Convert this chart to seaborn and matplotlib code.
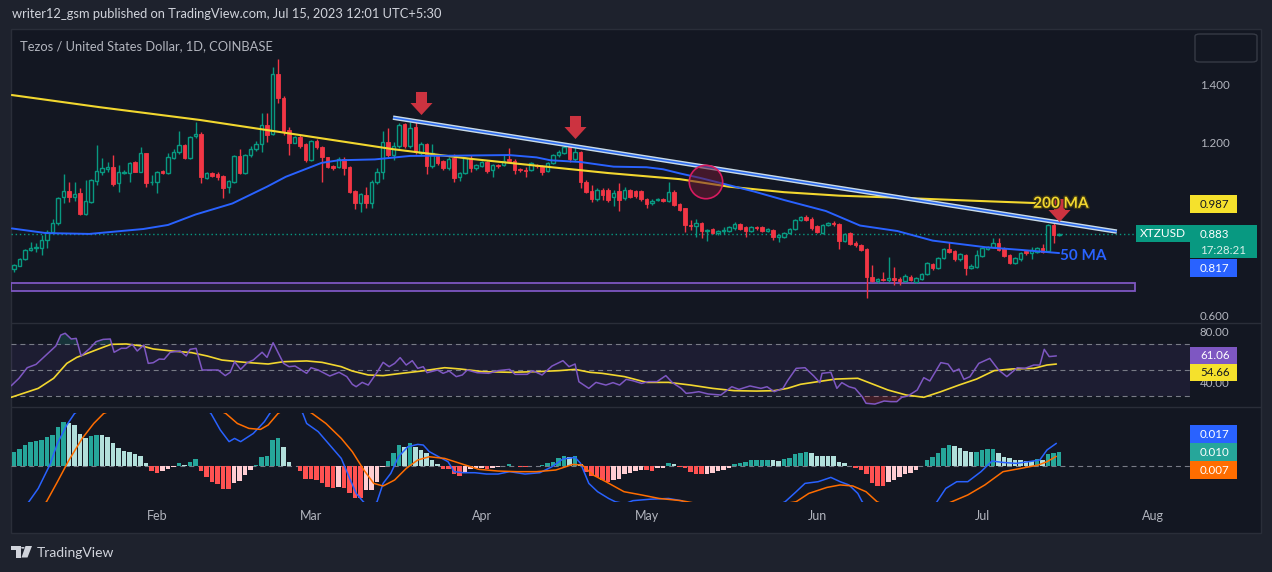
import numpy as np
import pandas as pd
import matplotlib
matplotlib.use('Agg')
import matplotlib.pyplot as plt
import matplotlib.patches as mpatches
import matplotlib.patheffects as pe
from matplotlib.path import Path
from matplotlib.ticker import FormatStrFormatter
import seaborn as sns

# ---------------- data ----------------
first_day = '2023-01-05'

opens = [0.771, 0.762, 0.774, 0.795, 0.826, 0.833, 0.833, 0.862, 0.891, 0.920,
         1.011, 1.031, 1.012, 1.023, 0.952, 0.994, 1.066, 1.098, 1.108, 1.113,
         1.057, 1.094, 1.092, 1.130, 1.098, 1.161, 1.061, 1.061, 1.100, 1.094,
         1.146, 1.167, 1.190, 1.146, 1.220, 1.228, 1.077, 1.092, 1.089, 1.084,
         1.044, 1.063, 1.152, 1.092, 1.155, 1.175, 1.192, 1.259, 1.228, 1.434,
         1.351, 1.241, 1.198, 1.218, 1.192, 1.138, 1.203, 1.182, 1.147, 1.117,
         1.115, 1.141, 1.114, 1.031, 0.991, 1.017, 0.991, 1.061, 1.095, 1.199,
         1.155, 1.187, 1.261, 1.187, 1.253, 1.161, 1.192, 1.118, 1.155, 1.134,
         1.111, 1.144, 1.080, 1.092, 1.144, 1.109, 1.118, 1.132, 1.103, 1.121,
         1.121, 1.140, 1.136, 1.106, 1.103, 1.103, 1.121, 1.118, 1.100, 1.129,
         1.155, 1.161, 1.182, 1.140, 1.164, 1.063, 1.032, 1.003, 1.034, 1.034,
         1.009, 1.032, 1.006, 1.034, 1.031, 1.032, 1.003, 0.988, 1.000, 1.004,
         0.997, 1.029, 0.986, 0.971, 0.914, 0.910, 0.919, 0.893, 0.899, 0.885,
         0.893, 0.894, 0.902, 0.916, 0.906, 0.894, 0.908, 0.906, 0.893, 0.895,
         0.871, 0.874, 0.887, 0.899, 0.931, 0.940, 0.936, 0.910, 0.887, 0.914,
         0.922, 0.917, 0.860, 0.885, 0.851, 0.845, 0.830, 0.736, 0.722, 0.726,
         0.724, 0.730, 0.729, 0.722, 0.736, 0.717, 0.727, 0.745, 0.779, 0.765,
         0.799, 0.830, 0.825, 0.795, 0.810, 0.767, 0.770, 0.807, 0.830, 0.839,
         0.853, 0.833, 0.810, 0.782, 0.795, 0.824, 0.818, 0.822, 0.833, 0.824,
         0.914, 0.880]

highs = [0.774, 0.779, 0.801, 0.832, 0.856, 0.851, 0.879, 0.897, 0.933, 1.012,
         1.090, 1.063, 1.063, 1.040, 1.069, 1.072, 1.190, 1.144, 1.132, 1.155,
         1.121, 1.102, 1.132, 1.134, 1.184, 1.163, 1.086, 1.100, 1.104, 1.161,
         1.175, 1.238, 1.194, 1.222, 1.270, 1.233, 1.098, 1.096, 1.095, 1.086,
         1.069, 1.155, 1.175, 1.160, 1.185, 1.205, 1.299, 1.299, 1.457, 1.486,
         1.360, 1.253, 1.222, 1.224, 1.195, 1.207, 1.209, 1.185, 1.149, 1.121,
         1.149, 1.149, 1.117, 1.035, 1.025, 1.046, 1.069, 1.109, 1.238, 1.247,
         1.201, 1.265, 1.264, 1.270, 1.272, 1.201, 1.195, 1.192, 1.160, 1.137,
         1.149, 1.157, 1.098, 1.148, 1.155, 1.125, 1.135, 1.135, 1.125, 1.124,
         1.155, 1.178, 1.140, 1.109, 1.115, 1.130, 1.124, 1.120, 1.130, 1.160,
         1.172, 1.195, 1.190, 1.190, 1.168, 1.070, 1.052, 1.040, 1.040, 1.040,
         1.034, 1.058, 1.046, 1.038, 1.036, 1.036, 1.006, 1.002, 1.008, 1.008,
         1.061, 1.035, 0.990, 0.974, 0.931, 0.933, 0.923, 0.899, 0.903, 0.897,
         0.908, 0.912, 0.925, 0.920, 0.910, 0.911, 0.912, 0.910, 0.905, 0.899,
         0.882, 0.891, 0.905, 0.935, 0.946, 0.950, 0.940, 0.914, 0.918, 0.925,
         0.929, 0.921, 0.887, 0.889, 0.857, 0.849, 0.834, 0.776, 0.730, 0.752,
         0.805, 0.770, 0.733, 0.744, 0.740, 0.734, 0.749, 0.786, 0.783, 0.803,
         0.834, 0.856, 0.829, 0.817, 0.814, 0.778, 0.827, 0.837, 0.843, 0.868,
         0.868, 0.837, 0.814, 0.805, 0.822, 0.828, 0.839, 0.837, 0.848, 0.918,
         0.925, 0.887]

lows = [0.766, 0.753, 0.772, 0.793, 0.824, 0.822, 0.810, 0.833, 0.888, 0.915,
        0.989, 0.994, 0.997, 0.948, 0.948, 0.990, 1.052, 1.086, 1.098, 1.049,
        1.029, 1.090, 1.063, 1.095, 1.095, 1.046, 1.052, 1.023, 1.090, 1.088,
        1.140, 1.160, 1.140, 1.140, 1.215, 1.057, 1.072, 1.080, 1.069, 1.008,
        1.023, 1.060, 1.090, 1.088, 1.150, 1.170, 1.167, 1.199, 1.225, 1.333,
        1.224, 1.155, 1.195, 1.180, 1.130, 1.135, 1.175, 1.063, 1.110, 1.105,
        1.110, 1.086, 1.023, 0.969, 0.960, 0.971, 0.971, 1.055, 1.072, 1.150,
        1.138, 1.180, 1.180, 1.180, 1.160, 1.155, 1.089, 1.110, 1.120, 1.103,
        1.105, 1.063, 1.066, 1.088, 1.098, 1.105, 1.115, 1.092, 1.078, 1.112,
        1.118, 1.130, 1.089, 1.098, 1.080, 1.099, 1.112, 1.086, 1.095, 1.125,
        1.150, 1.158, 1.132, 1.136, 1.040, 1.025, 0.994, 0.998, 0.999, 0.994,
        0.980, 0.963, 1.000, 1.006, 1.008, 0.996, 0.971, 0.984, 0.996, 0.993,
        0.994, 0.978, 0.962, 0.891, 0.897, 0.874, 0.868, 0.860, 0.883, 0.881,
        0.883, 0.890, 0.898, 0.896, 0.874, 0.890, 0.898, 0.890, 0.889, 0.862,
        0.856, 0.870, 0.883, 0.895, 0.927, 0.927, 0.898, 0.887, 0.883, 0.910,
        0.912, 0.830, 0.856, 0.844, 0.837, 0.824, 0.661, 0.718, 0.713, 0.720,
        0.718, 0.707, 0.707, 0.718, 0.720, 0.713, 0.723, 0.741, 0.760, 0.761,
        0.795, 0.818, 0.791, 0.791, 0.741, 0.763, 0.766, 0.803, 0.826, 0.835,
        0.824, 0.803, 0.778, 0.778, 0.791, 0.812, 0.796, 0.818, 0.818, 0.820,
        0.853, 0.876]

closes = [0.769, 0.776, 0.797, 0.828, 0.836, 0.839, 0.861, 0.891, 0.920, 1.008,
          1.031, 1.011, 1.020, 0.952, 0.998, 1.068, 1.100, 1.109, 1.113, 1.055,
          1.095, 1.097, 1.126, 1.098, 1.161, 1.060, 1.063, 1.095, 1.094, 1.147,
          1.164, 1.190, 1.146, 1.218, 1.226, 1.080, 1.092, 1.084, 1.080, 1.043,
          1.066, 1.152, 1.092, 1.155, 1.176, 1.192, 1.259, 1.224, 1.434, 1.351,
          1.236, 1.198, 1.218, 1.187, 1.138, 1.203, 1.182, 1.147, 1.115, 1.111,
          1.141, 1.109, 1.029, 0.991, 1.021, 0.991, 1.063, 1.098, 1.199, 1.155,
          1.187, 1.259, 1.187, 1.247, 1.167, 1.192, 1.118, 1.163, 1.126, 1.111,
          1.141, 1.077, 1.092, 1.144, 1.111, 1.121, 1.130, 1.101, 1.121, 1.116,
          1.134, 1.136, 1.103, 1.102, 1.101, 1.126, 1.116, 1.098, 1.126, 1.155,
          1.164, 1.182, 1.140, 1.164, 1.063, 1.029, 1.002, 1.034, 1.017, 0.999,
          1.025, 0.999, 1.034, 1.012, 1.014, 1.002, 0.986, 0.998, 1.003, 0.997,
          1.029, 0.983, 0.966, 0.914, 0.910, 0.919, 0.894, 0.896, 0.887, 0.893,
          0.896, 0.908, 0.917, 0.900, 0.893, 0.907, 0.902, 0.894, 0.901, 0.874,
          0.878, 0.887, 0.901, 0.931, 0.940, 0.931, 0.902, 0.891, 0.914, 0.920,
          0.916, 0.860, 0.883, 0.848, 0.845, 0.828, 0.733, 0.722, 0.726, 0.724,
          0.730, 0.724, 0.722, 0.738, 0.724, 0.730, 0.745, 0.782, 0.764, 0.799,
          0.830, 0.822, 0.795, 0.813, 0.764, 0.774, 0.810, 0.833, 0.839, 0.853,
          0.828, 0.807, 0.782, 0.801, 0.818, 0.816, 0.827, 0.833, 0.822, 0.914,
          0.879, 0.883]

# moving averages (day of year, value)
ma200_day = [4.6, 20.6, 38.8, 57, 74, 88, 100.7, 113, 126, 135, 145, 155, 165.5, 180, 190, 195]
ma200_val = [1.362, 1.320, 1.276, 1.224, 1.175, 1.142, 1.117, 1.093, 1.072, 1.046, 1.027,
             1.015, 1.008, 0.997, 0.990, 0.987]
ma50_day = [4.6, 10.8, 18.7, 28.5, 33, 38, 44.7, 51, 54.4, 60.9, 64, 70.6, 77, 85.6, 95, 100,
            102.5, 108, 114, 120, 123, 126, 130, 139.6, 145, 152.6, 158.8, 165.6, 172, 181.7, 188, 195]
ma50_val = [0.902, 0.886, 0.883, 0.900, 0.914, 0.950, 0.988, 1.046, 1.080, 1.128, 1.137, 1.140,
            1.152, 1.153, 1.155, 1.147, 1.137, 1.131, 1.115, 1.113, 1.106, 1.092, 1.075, 1.029,
            1.000, 0.962, 0.912, 0.893, 0.860, 0.837, 0.828, 0.817]

# trend line and marks
trend_day = [73.9, 205.5]
trend_price = [1.284, 0.891]
arrow_day = [79, 107, 195]
arrow_price = [1.336, 1.253, 0.967]
circle_day, circle_price = 130.8, 1.062
zone_day = [4.45, 208.8]
zone_price = [0.686, 0.714]

# RSI 14 and its MA
rsi_day = [4.5, 5.9, 7.4, 9.0, 11.5, 12.6, 13.5, 14.3, 15.4, 16.3,
           17.2, 18.8, 19.9, 21.2, 22.5, 23.2, 24.5, 25.4, 26.5, 27.4,
           28.6, 29.4, 30.3, 31.4, 32.3, 33.4, 35.2, 36.3, 37.0, 38.1,
           39.2, 42.1, 43.4, 44.3, 45.1, 46.2, 47.4, 48.5, 50.1, 51.0,
           52.1, 54.0, 55.0, 56.1, 58.2, 59.0, 60.3, 62.4, 64.1, 65.5,
           66.5, 67.2, 68.3, 69.4, 71.0, 72.1, 73.2, 74.2, 75.2, 76.3,
           77.4, 78.4, 79.4, 80.1, 82.0, 83.0, 84.1, 85.4, 86.5, 87.4,
           89.2, 91.3, 93.0, 95.1, 96.1, 98.3, 99.3, 101.0, 102.8, 104.8,
           105.9, 107.0, 107.7, 109.5, 110.8, 112.6, 113.9, 115.1, 116.3, 117.5,
           119.1, 120.3, 121.9, 123.5, 124.7, 126.3, 127.2, 128.3, 129.5, 131.2,
           133.5, 135.5, 136.8, 138.8, 140.8, 141.9, 143.2, 144.8, 145.6, 147.2,
           148.8, 150.4, 151.5, 151.9, 153.5, 154.6, 155.5, 156.8, 157.9, 159.2,
           159.9, 161.5, 163.2, 164.4, 165.5, 166.4, 167.5, 169.2, 170.4, 171.5,
           173.5, 174.8, 175.8, 176.8, 177.7, 178.8, 180.4, 182.4, 184.0, 185.5,
           187.4, 188.8, 190.4, 191.5, 192.3, 193.2, 194.5]
rsi_val = [37.7, 43.5, 51.8, 54.4, 64.4, 68.8, 77.4, 78.8, 74.3, 74.8,
           61.0, 67.0, 72.2, 74.0, 74.3, 63.9, 67.0, 67.0, 70.1, 64.9,
           69.6, 55.2, 55.7, 58.6, 58.4, 63.9, 64.9, 61.0, 66.2, 67.0,
           50.0, 50.0, 45.6, 48.2, 56.5, 50.5, 55.8, 57.8, 63.9, 59.9,
           71.4, 55.2, 52.6, 53.1, 47.4, 51.8, 50.0, 45.3, 48.2, 44.8,
           38.8, 36.9, 40.3, 38.2, 48.2, 56.0, 52.6, 55.2, 59.7, 53.9,
           57.3, 51.3, 52.6, 47.9, 50.0, 47.4, 49.2, 44.8, 46.1, 50.0,
           47.9, 47.4, 49.5, 50.5, 46.6, 46.6, 49.5, 46.1, 53.1, 57.3,
           52.6, 54.7, 40.8, 35.6, 40.3, 38.2, 40.1, 38.2, 42.7, 41.6,
           39.5, 40.9, 40.9, 45.6, 40.1, 35.6, 31.7, 32.2, 33.0, 31.2,
           30.4, 36.9, 34.8, 37.5, 35.6, 36.9, 33.0, 35.6, 41.4, 51.3,
           51.8, 45.3, 40.1, 47.4, 48.2, 35.6, 40.1, 36.9, 35.6, 29.1,
           23.9, 23.3, 25.7, 25.2, 25.2, 28.6, 29.6, 34.3, 44.0, 41.4,
           55.8, 54.7, 48.7, 50.8, 42.7, 44.8, 55.2, 59.1, 50.0, 44.8,
           51.8, 51.3, 53.9, 53.9, 66.2, 60.5, 61.06]
rsima_day = [4.5, 9.4, 12.2, 14.6, 16.4, 19.9, 22.6, 25.4, 28.3, 30.3,
             33.7, 37.3, 40.1, 42.8, 47.0, 51.2, 54.0, 58.2, 61.0, 64.5,
             66.5, 69.4, 72.1, 75.5, 79.1, 83.3, 86.1, 90.3, 95.1, 100.0,
             104.1, 107.0, 109.7, 111.9, 116.0, 120.0, 124.0, 128.0, 132.0, 135.9,
             140.0, 143.2, 145.6, 148.0, 151.2, 154.4, 158.4, 160.8, 163.9, 167.2,
             170.4, 173.5, 176.8, 180.0, 183.2, 186.4, 190.4, 192.8, 194.5]
rsima_val = [28.6, 35.6, 43.5, 55.2, 59.9, 65.7, 70.1, 70.4, 68.8, 66.5,
             64.9, 63.6, 61.0, 57.8, 56.0, 54.7, 56.5, 57.1, 56.0, 52.6,
             49.2, 46.1, 45.6, 47.4, 49.2, 51.8, 50.8, 48.7, 48.2, 48.7,
             49.5, 50.5, 48.2, 47.4, 44.8, 40.3, 40.3, 38.2, 35.6, 33.8,
             33.5, 33.8, 35.6, 38.8, 40.9, 42.9, 43.5, 39.5, 34.3, 30.4,
             28.6, 33.0, 38.2, 42.9, 49.5, 50.8, 51.3, 53.9, 54.66]

# MACD (values in thousandths)
hist_milli = [8.5,
              10.2, 12.5, 15.9, 18.5, 19.0, 19.8, 21.8, 23.6, 30.0, 33.3,
              32.5, 31.3, 24.4, 21.5, 23.1, 23.6, 23.4, 21.8, 17.2, 13.3,
              11.3, 10.8, 9.0, 7.5, 1.8, -4.1, -5.4, -3.8, -2.5, -0.8,
              1.8, 0.5, 2.5, 5.2, -3.8, -9.0, -12.3, -14.1, -17.9, -18.0,
              -13.6, -11.5, -7.2, -3.3, 0.2, 6.9, 7.5, 19.8, 21.5, 14.1,
              2.5, -0.2, -3.8, -10.2, -10.3, -11.0, -13.6, -16.7, -17.5, -16.7,
              -16.8, -20.8, -24.6, -24.7, -18.7, -18.5, -12.3, -0.8, 3.6, 9.5,
              15.9, 14.6, 17.2, 14.6, 12.1, 9.5, 4.4, 1.0, -2.5, -2.6,
              -6.4, -7.9, -4.6, -2.8, -2.1, -1.5, -2.5, -2.1, -1.3, -0.2,
              1.3, 0.1, -0.8, -0.9, -0.3, 0.0, 0.5, 1.8, 3.1, 5.6,
              7.5, 6.9, 7.5, 1.0,
              -4.6, -7.9, -9.0, -11.0, -12.3, -11.0, -10.5, -6.4, -5.4, -4.1,
              -3.3, -3.4, -4.1, -2.1, -1.5, 1.8, 1.0, -0.8, -2.1, -4.6,
              -6.4, -6.5, -6.4, -5.4, -3.8, -3.3, -2.1, 1.3, 2.3, 3.1,
              4.4, 4.5, 4.6, 4.7, 4.5, 3.8, 4.8, 5.6, 9.0, 10.0,
              10.8, 9.5, 7.5, 7.4, 7.3, 7.2, 3.1, 1.8, 0.0, -2.1,
              -3.3, -6.4, -13.6, -15.4, -15.5, -12.3, -11.0, -9.0, -6.4, -5.4,
              -3.3, -0.2, 4.4, 6.4, 9.5, 13.3, 15.9, 15.2, 13.3, 11.3,
              10.2, 10.8, 12.1, 12.5, 12.6, 9.5, 6.4, 5.6, 4.4, 4.3,
              3.8, 3.7, 4.8, 4.4, 9.3, 9.8, 10.2]
macd_day = [4.45, 7.7, 9.4, 11.5, 12.9, 14.6, 16.0, 22.5, 28.0, 35.2,
            38.8, 40.8, 42.5, 44.1, 45.1, 46.2, 48.5, 50.5, 51.5, 54.5,
            57.5, 58.2, 60.3, 62.4, 64.5, 65.9, 67.2, 68.5, 69.7, 71.0,
            72.1, 73.5, 74.9, 76.6, 78.4, 79.4, 80.5, 82.2, 83.9, 85.0,
            86.7, 88.8, 90.9, 93.0, 95.1, 97.9, 100.6, 102.8, 104.8, 107.0,
            108.0, 109.5, 111.1, 113.1, 114.3, 116.1, 117.5, 120.6, 124.0, 126.3,
            129.7, 137.0, 141.5, 145.2, 147.2, 148.8, 151.2, 153.5, 155.2, 156.8,
            158.4, 159.2, 162.5, 166.1, 169.7, 172.8, 174.4, 176.4, 178.4, 180.8,
            182.8, 184.8, 187.2, 189.5, 191.5, 192.8, 194.5]
macd_milli = [-42.3, -27.7, -17.5, 0.5, 17.2, 31.3, 40.2, 57.7, 65.4, 60.0,
              47.7, 40.2, 27.5, 18.5, 21.0, 18.5, 24.8, 33.8, 40.2, 57.7,
              40.2, 32.5, 26.2, 15.9, 5.6, -8.5, -21.3, -27.7, -32.3, -27.7,
              -13.6, -5.9, 6.9, 14.6, 16.4, 15.9, 10.8, 6.9, 3.1, -4.6,
              -5.4, -5.4, -6.4, -6.4, -4.6, -6.4, -5.4, -0.8, 5.2, 6.4,
              1.8, -13.6, -20.0, -25.2, -27.7, -29.2, -26.9, -25.8, -25.2, -26.9,
              -34.6, -42.3, -34.6, -27.7, -20.0, -13.6, -12.3, -9.0, -12.3, -14.8,
              -21.3, -27.7, -42.3, -47.7, -42.3, -27.7, -17.5, -12.3, -12.3, -4.6,
              3.6, 2.5, 1.8, 3.1, 4.4, 12.1, 17.2]
signal_day = [4.45, 10.9, 12.9, 15.0, 17.4, 19.5, 21.3, 29.7, 37.0, 43.5,
              45.6, 47.7, 49.8, 51.2, 53.0, 56.1, 59.2, 61.7, 64.5, 66.5,
              68.6, 70.4, 72.1, 74.2, 76.3, 78.4, 80.5, 83.3, 86.1, 89.5,
              93.0, 96.5, 100.0, 103.5, 106.6, 108.3, 110.3, 112.6, 115.9, 119.1,
              122.3, 126.3, 133.4, 140.7, 147.2, 149.5, 152.8, 155.2, 157.5, 159.9,
              161.9, 167.0, 171.5, 175.5, 178.4, 181.5, 184.8, 188.0, 191.2, 192.8,
              194.5]
signal_milli = [-53.8, -27.7, -12.3, 4.4, 21.0, 32.5, 40.2, 53.8, 52.3, 40.2,
                32.5, 28.7, 27.9, 31.3, 40.2, 47.7, 40.2, 32.5, 21.0, 10.8,
                -3.3, -13.6, -15.6, -11.0, -2.1, 4.4, 6.9, 5.6, 1.8, -2.8,
                -4.1, -4.6, -4.6, -3.3, 1.0, 0.5, -7.2, -12.3, -20.0, -22.5,
                -25.2, -26.9, -32.3, -32.3, -27.7, -21.3, -16.7, -14.8, -15.6, -20.0,
                -27.7, -36.9, -34.6, -27.7, -22.5, -14.8, -4.6, -2.1, 0.5, 3.1,
                7.2]

# ---------------- style ----------------
sns.set_theme(style='dark')
plt.rcParams['font.family'] = ['Lato', 'DejaVu Sans']

BG = '#131722'
OUTER = '#1e222d'
GRID = '#2a2e39'
TXT = '#b2b5be'
GREEN = '#089981'
RED = '#f23645'
YELLOW = '#f2d72f'
BLUE = '#2962ff'
PURPLE = '#7e57c2'
ORANGE = '#ff6d00'

W, H = 1272, 572
fig = plt.figure(figsize=(W / 100, H / 100), dpi=100, facecolor=OUTER)


def fx(px):
    return px / W


def fy(py):
    return 1 - py / H


def add_ax(top, bottom):
    ax = fig.add_axes([fx(11), fy(bottom), (1190 - 11) / W, (bottom - top) / H])
    ax.set_facecolor('none')
    for s in ax.spines.values():
        s.set_visible(False)
    ax.grid(False)
    ax.set_xlim(4.45, 218.8)
    return ax


# chart frame
fig.patches.append(mpatches.Rectangle((fx(11), fy(533)), (1261 - 11) / W, (533 - 29) / H,
                                      transform=fig.transFigure, fc=BG, ec=GRID, lw=1, zorder=-5))
for yy in (322.5, 406.5):
    fig.lines.append(plt.Line2D([fx(11), fx(1261)], [fy(yy), fy(yy)], transform=fig.transFigure,
                                color=GRID, lw=1, zorder=1))

ax_p = add_ax(29, 322)
ax_r = add_ax(323, 406)
ax_m = add_ax(413, 501.7)
ax_p.set_ylim(0.5793, 1.5897)
ax_r.set_ylim(21.78, 86.85)
ax_m.set_ylim(-0.02769, 0.04054)

jan1 = pd.Timestamp('2023-01-01')
dates = pd.date_range(first_day, periods=len(closes), freq='D')
day = (dates - jan1).days.to_numpy()

o = np.array(opens)
h = np.array(highs)
l = np.array(lows)
c = np.array(closes)
up = c >= o

# ---------------- price pane ----------------
ax_p.vlines(day, l, h, colors=np.where(up, GREEN, RED), lw=1, zorder=2)
body_lo = np.minimum(o, c)
body_h = np.maximum(np.abs(c - o), 0.002)
ax_p.bar(day[up], body_h[up], bottom=body_lo[up], width=0.62, facecolor=BG,
         edgecolor=GREEN, linewidth=1, zorder=3)
ax_p.bar(day[~up], body_h[~up], bottom=body_lo[~up], width=0.62, facecolor=RED,
         edgecolor=RED, linewidth=0.6, zorder=3)

ax_p.add_patch(mpatches.Rectangle((zone_day[0], zone_price[0]), zone_day[1] - zone_day[0],
                                  zone_price[1] - zone_price[0], fc=(0.49, 0.34, 0.76, 0.12),
                                  ec=PURPLE, lw=1.3, zorder=1))
ax_p.hlines(c[-1], 4.45, 209, colors=GREEN, linestyles=(0, (1, 2)), lw=1, zorder=1)

sns.lineplot(x=ma200_day, y=ma200_val, ax=ax_p, color=YELLOW, lw=1.5, estimator=None,
             sort=False, legend=False, zorder=4)
sns.lineplot(x=ma50_day, y=ma50_val, ax=ax_p, color=BLUE, lw=1.4, estimator=None,
             sort=False, legend=False, zorder=4)

ax_p.plot(trend_day, trend_price, color='#c9dbe8', lw=3.2, solid_capstyle='butt', zorder=5)
ax_p.plot(trend_day, trend_price, color='#2f6df0', lw=1.2, solid_capstyle='butt', zorder=5)

ax_p.add_patch(mpatches.Ellipse((circle_day, circle_price), 33.4 / 5.5, 33.4 / 290,
                                fc=(0.42, 0.10, 0.20, 0.55), ec='#d81b60', lw=1.2, zorder=6))

arrow_path = Path([(-5.5, 11.5), (5.5, 11.5), (5.5, 0.5), (11, 0.5), (0, -11.5),
                   (-11, 0.5), (-5.5, 0.5), (-5.5, 11.5)])
ax_p.plot(arrow_day, arrow_price, ls='none', marker=arrow_path, markersize=16.6,
          color='#cc3340', markeredgewidth=0, zorder=7)

ax_p.text(190.3, ma200_val[-1], '200 MA', color=YELLOW, fontsize=11, fontweight='bold',
          va='center', ha='left', zorder=8,
          path_effects=[pe.withStroke(linewidth=2, foreground='#3b3514')])
ax_p.text(195.2, 0.807, '50 MA', color=BLUE, fontsize=11, fontweight='bold',
          va='center', ha='left', zorder=8)

ax_p.set_xticks([])
ax_p.yaxis.tick_right()
ax_p.set_yticks([0.6, 1.2, 1.4])
ax_p.yaxis.set_major_formatter(FormatStrFormatter('%.3f'))
ax_p.tick_params(axis='y', length=0, pad=7, labelcolor=TXT, labelsize=8.3)

# ---------------- RSI pane ----------------
rsi = np.array(rsi_val)
ax_r.axhspan(30, 70, color=PURPLE, alpha=0.1, lw=0)
for lv in (70, 50, 30):
    ax_r.axhline(lv, color='#787b86', ls=(0, (4.5, 3.5)), lw=0.8, zorder=1)
ax_r.fill_between(rsi_day, rsi, 70, where=rsi > 70, interpolate=True, color='#26a69a',
                  alpha=0.2, lw=0)
ax_r.fill_between(rsi_day, rsi, 30, where=rsi < 30, interpolate=True, color='#f23645',
                  alpha=0.2, lw=0)
sns.lineplot(x=rsima_day, y=rsima_val, ax=ax_r, color=YELLOW, lw=1.2, estimator=None,
             sort=False, legend=False, zorder=3)
sns.lineplot(x=rsi_day, y=rsi_val, ax=ax_r, color=PURPLE, lw=1.1, estimator=None,
             sort=False, legend=False, zorder=4)
ax_r.set_xticks([])
ax_r.yaxis.tick_right()
ax_r.set_yticks([40, 80])
ax_r.yaxis.set_major_formatter(FormatStrFormatter('%.2f'))
ax_r.tick_params(axis='y', length=0, pad=7, labelcolor=TXT, labelsize=8.3)

# ---------------- MACD pane ----------------
hist = np.array(hist_milli) / 1000
prev = np.r_[hist[0], hist[:-1]]
hist_col = np.where(hist >= 0, np.where(hist > prev, '#26a69a', '#b2dfdb'),
                    np.where(hist > prev, '#ffcdd2', '#ff5252'))
ax_m.axhline(0, color='#787b86', ls=(0, (4.5, 3.5)), lw=0.8, zorder=1)
ax_m.bar(day, hist, width=0.8, color=hist_col, lw=0, zorder=2)
sns.lineplot(x=macd_day, y=np.array(macd_milli) / 1000, ax=ax_m, color=BLUE, lw=1.1,
             estimator=None, sort=False, legend=False, zorder=3)
sns.lineplot(x=signal_day, y=np.array(signal_milli) / 1000, ax=ax_m, color=ORANGE, lw=1.1,
             estimator=None, sort=False, legend=False, zorder=3)
ax_m.set_yticks([])
months = pd.date_range('2023-02-01', '2023-08-01', freq='MS')
ax_m.set_xticks((months - jan1).days.to_numpy())
ax_m.set_xticklabels(months.strftime('%b'))
ax_m.tick_params(axis='x', length=0, pad=6, labelcolor=TXT, labelsize=9)
for a in (ax_p, ax_r, ax_m):
    a.set_xlabel('')
    a.set_ylabel('')


# ---------------- scale tags ----------------
def tag(x0, y0, x1, y1, text, fc, tc='white', tx=None, fs=8.3):
    fig.patches.append(mpatches.Rectangle((fx(x0), fy(y1)), (x1 - x0) / W, (y1 - y0) / H,
                                          transform=fig.transFigure, fc=fc, ec='none', zorder=5))
    fig.text(fx(tx if tx else x0 + 10), fy((y0 + y1) / 2), text, color=tc, fontsize=fs,
             va='center', ha='left', zorder=6)


tag(1190, 195, 1237, 213, f'{ma200_val[-1]:.3f}', '#f5e12c', tc='#131722')
tag(1136, 225, 1190, 242, 'XTZUSD', GREEN, tx=1140, fs=8.6)
tag(1190, 225, 1257, 258, '', GREEN)
fig.text(fx(1200), fy(234), f'{c[-1]:.3f}', color='white', fontsize=8.3, va='center', zorder=6)
fig.text(fx(1200), fy(250), '17:28:21', color='#d7efe9', fontsize=8.3, va='center', zorder=6)
tag(1190, 259, 1237, 277, f'{ma50_val[-1]:.3f}', BLUE)
tag(1190, 347, 1237, 364, f'{rsi_val[-1]:.2f}', PURPLE)
tag(1190, 364, 1237, 381, f'{rsima_val[-1]:.2f}', '#f5e12c', tc='#131722')
tag(1190, 425, 1237, 443, f'{macd_milli[-1] / 1000:.3f}', BLUE)
tag(1190, 443, 1237, 461, f'{hist[-1]:.3f}', '#26a69a')
tag(1190, 461, 1237, 479, f'{signal_milli[-1] / 1000:.3f}', ORANGE)

fig.patches.append(mpatches.FancyBboxPatch((fx(1195), fy(62)), 62 / W, 28 / H,
                                           boxstyle='round,pad=0,rounding_size=0.004',
                                           transform=fig.transFigure, fc='none', ec='#363a45',
                                           lw=1, zorder=5))

# ---------------- header / footer ----------------
fig.text(fx(12), fy(14), 'writer12_gsm published on TradingView.com, Jul 15, 2023 12:01 UTC+5:30',
         color='#d1d4dc', fontsize=9.3, va='center')
fig.text(fx(20), fy(46), 'Tezos / United States Dollar, 1D, COINBASE', color=TXT,
         fontsize=9.3, va='center')

logo = '#d1d4dc'
fig.patches.append(mpatches.Polygon([(fx(11), fy(546)), (fx(20.7), fy(546)), (fx(20.7), fy(557.5)),
                                     (fx(15.7), fy(557.5)), (fx(15.7), fy(549.5)), (fx(11), fy(549.5))],
                                    closed=True, transform=fig.transFigure, fc=logo, ec='none'))
fig.patches.append(mpatches.Circle((fx(22.8), fy(547.8)), 1.8 / W, transform=fig.transFigure,
                                   fc=logo, ec='none'))
fig.patches.append(mpatches.Polygon([(fx(25.5), fy(546)), (fx(32), fy(546)), (fx(27.5), fy(557.5)),
                                     (fx(21.5), fy(557.5))],
                                    closed=True, transform=fig.transFigure, fc=logo, ec='none'))
fig.text(fx(37), fy(553), 'TradingView', color=logo, fontsize=10, va='center')

plt.savefig('out.png', dpi=100, facecolor=fig.get_facecolor())
